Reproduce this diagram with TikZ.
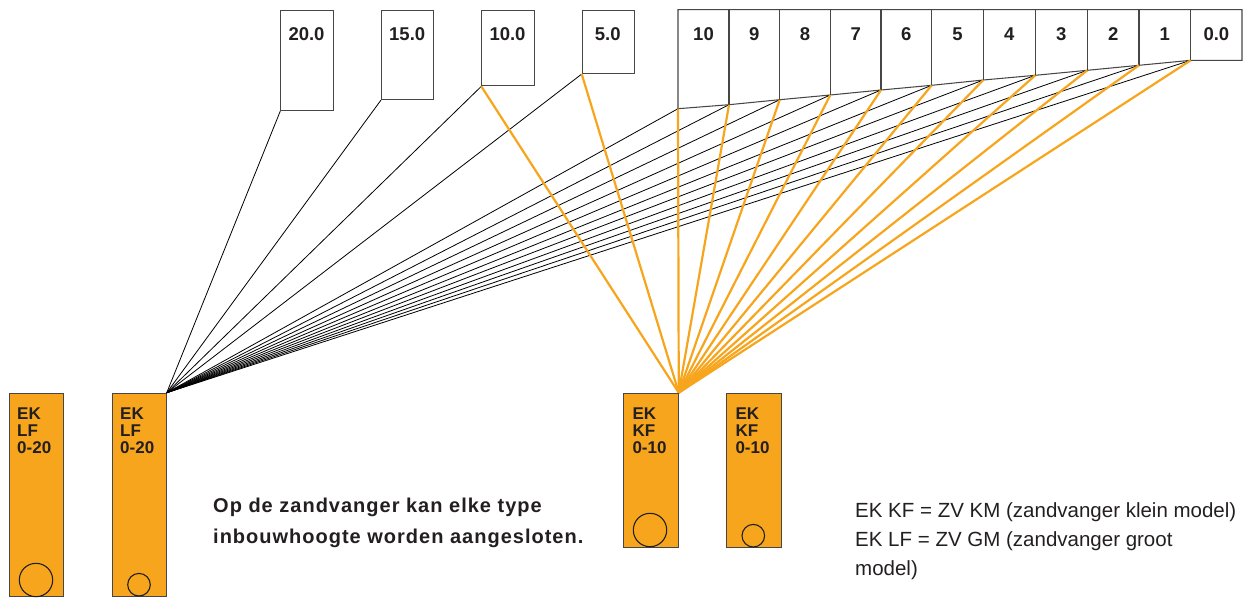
\documentclass[tikz,border=0pt]{standalone}
\usepackage{fontspec}
\setmainfont{Liberation Sans}
\newfontfamily\trackfont[LetterSpace=5]{Liberation Sans}
\definecolor{zvorange}{RGB}{246,165,29}
\definecolor{boxgray}{RGB}{70,70,70}
\definecolor{txtdark}{RGB}{35,31,32}
\begin{document}
\begin{tikzpicture}[x=1pt,y=-1pt,
  frame/.style={draw=boxgray, line width=1.05pt},
  topbox/.style={frame, rectangle, inner sep=0pt, anchor=north west},
  zvbox/.style={frame, fill=zvorange, rectangle, inner sep=0pt, anchor=north west},
  valve/.style={circle, draw=txtdark, line width=1.1pt, inner sep=0pt},
  blackwire/.style={line width=0.8pt, draw=black},
  orangewire/.style={line width=2.2pt, draw=zvorange},
  numlbl/.style={font=\fontsize{18.5}{20}\selectfont\bfseries, text=txtdark, anchor=base, inner sep=0pt},
  boxlbl/.style={font=\fontsize{17}{16.7}\selectfont\bfseries, align=left, anchor=north west, inner sep=0pt, text=txtdark},
  note/.style={font=\trackfont\fontsize{20}{30.6}\selectfont\bfseries, align=left, anchor=north west, inner sep=0pt, text=txtdark},
  legend/.style={font=\fontsize{20.5}{29}\selectfont, align=left, anchor=north west, inner sep=0pt, text=txtdark}]
\useasboundingbox (0,0) rectangle (1247,597);

% sand trap boxes
\node[zvbox, minimum width=54.6pt, minimum height=203.3pt] (lf1) at (8.7,392.7) {};
\node[zvbox, minimum width=54pt, minimum height=203.3pt] (lf2) at (111.7,392.7) {};
\node[zvbox, minimum width=55pt, minimum height=154pt] (kf1) at (622.7,392.7) {};
\node[zvbox, minimum width=55pt, minimum height=154pt] (kf2) at (725.7,392.7) {};

\node[valve, minimum size=33.4pt] (v1) at (36,580) {};
\node[valve, minimum size=22.6pt] (v2) at (139,584.7) {};
\node[valve, minimum size=33.4pt] (v3) at (650,530) {};
\node[valve, minimum size=22.6pt] (v4) at (753.3,535.7) {};

\node[boxlbl] (t1) at (17,407.8) {EK\\LF\\0-20};
\node[boxlbl] (t2) at (120,407.8) {EK\\LF\\0-20};
\node[boxlbl] (t3) at (632.3,407.8) {EK\\KF\\0-10};
\node[boxlbl] (t4) at (735.3,407.8) {EK\\KF\\0-10};

% top separate boxes
\node[topbox, minimum width=52.4pt, minimum height=100.3pt] (b20) at (280.3,9.7) {};
\node[topbox, minimum width=52.3pt, minimum height=89.3pt] (b15) at (381,9.7) {};
\node[topbox, minimum width=52.4pt, minimum height=75.6pt] (b10) at (481.3,9.7) {};
\node[topbox, minimum width=52.3pt, minimum height=63.3pt] (b5) at (581.7,9.7) {};
\node[numlbl] (l20) at (306.5,40.7) {20.0};
\node[numlbl] (l15) at (407.2,40.7) {15.0};
\node[numlbl] (l10) at (507.5,40.7) {10.0};
\node[numlbl] (l5) at (607.8,40.7) {5.0};

% row of boxes
\foreach \x/\nx/\b/\lab [count=\i from 0] in {678/729/108.7/10, 729/779.7/104.7/9, 779.7/830.3/99.7/8, 830.3/881/95/7, 881/931.7/90/6, 931.7/983.3/85.3/5, 983.3/1035.3/80/4, 1035.3/1087.3/75.3/3, 1087.3/1139/70.3/2, 1139/1190.7/65.3/1, 1190.7/1242/60.3/0.0}{
  \coordinate (r\i) at (\x,\b);
  \coordinate (q\i) at (\x,9.7);
  \node[numlbl] (n\i) at ({(\x+\nx)/2},40.7) {\lab};
}
\coordinate (q11) at (1242,9.7);
\coordinate (r11) at (1242,60.3);
\draw[frame] (q0) -- (q11) -- (r11) -- (r10) -- (r9) -- (r8) -- (r7) -- (r6) -- (r5) -- (r4) -- (r3) -- (r2) -- (r1) -- (r0) -- cycle;
\foreach \i in {1,...,10}{\draw[frame] (q\i) -- (r\i);}

% connectors
\foreach \n in {b20,b15,b10,b5}{\draw[blackwire] (\n.south west) -- (lf2.north east);}
\foreach \i in {0,...,10}{\draw[blackwire] (r\i) -- (lf2.north east);}
\foreach \n in {b10,b5}{\draw[orangewire] (\n.south west) -- (kf1.north east);}
\foreach \i in {0,...,10}{\draw[orangewire] (r\i) -- (kf1.north east);}

% texts
\node[note] (nt) at (213,498) {Op de zandvanger kan elke type\\inbouwhoogte worden aangesloten.};
\node[legend] (lg) at (855,502) {EK KF = ZV KM (zandvanger klein model)\\EK LF = ZV GM (zandvanger groot\\model)};
\end{tikzpicture}
\end{document}
